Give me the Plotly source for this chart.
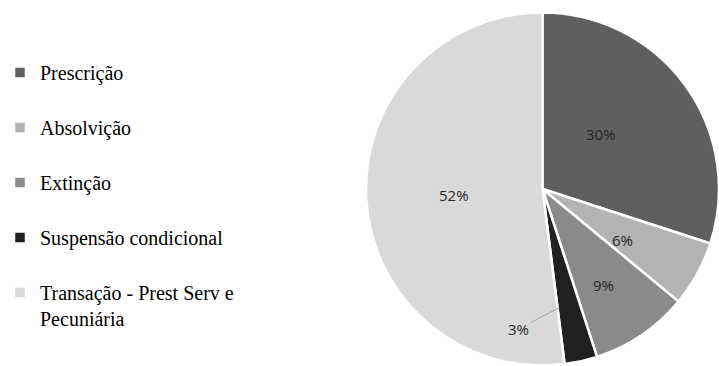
import math
import plotly.graph_objects as go

categories = ["Prescrição", "Absolvição", "Extinção", "Suspensão condicional",
              "Transação - Prest Serv e Pecuniária"]
legend_labels = ["Prescrição<br> ", "Absolvição<br> ", "Extinção<br> ",
                 "Suspensão condicional<br> ", "Transação - Prest Serv e<br>Pecuniária"]
values = [30, 6, 9, 3, 52]
colors = ["#5f5f5f", "#b3b3b3", "#8a8a8a", "#202020", "#d9d9d9"]

W, H = 719, 366
# pie geometry in pixels
R = 176.5
CX, CY = 542.5, 189.0  # CY measured from top
# radial placement of each percentage label (fraction of radius); None = leader line
label_r = [0.53, 0.6, 0.74, None, 0.5]
label_font = dict(family="Open Sans, sans-serif", size=15, color="#262626")

fig = go.Figure()
fig.add_trace(go.Pie(
    labels=legend_labels,
    values=values,
    sort=False,
    direction="clockwise",
    rotation=0,
    marker=dict(colors=colors, line=dict(color="#ffffff", width=2.5)),
    textinfo="none",
    domain=dict(x=[max(0, (CX - R) / W), min(1, (CX + R) / W)],
                y=[max(0, (H - (CY + R)) / H), min(1, (H - (CY - R)) / H)]),
    hoverinfo="label+percent",
))

total = sum(values)
cum = 0
for i, v in enumerate(values):
    start = cum / total
    cum += v
    end = cum / total
    pct = f"{v / total:.0%}"
    if label_r[i] is not None:
        ang = 2 * math.pi * (start + end) / 2
        rr = label_r[i] * R
        px = CX + rr * math.sin(ang)
        py = CY - rr * math.cos(ang)
        fig.add_annotation(x=px / W, y=(H - py) / H, xref="paper", yref="paper",
                           text=pct, showarrow=False, font=label_font)
    else:
        ang = 2 * math.pi * end - 0.01
        rr = 0.68 * R
        px = CX + rr * math.sin(ang)
        py = CY - rr * math.cos(ang)
        fig.add_annotation(
            x=px / W, y=(H - py) / H, xref="paper", yref="paper",
            text=pct, showarrow=True, arrowhead=0, arrowwidth=1,
            arrowcolor="#a6a6a6", ax=-40, ay=21, standoff=0, font=label_font,
        )

fig.update_layout(
    width=W, height=H,
    margin=dict(l=0, r=0, t=0, b=0),
    paper_bgcolor="#ffffff",
    plot_bgcolor="#ffffff",
    showlegend=True,
    legend=dict(
        x=0, xanchor="left",
        y=1 - 53 / H, yanchor="top",
        valign="top",
        font=dict(family="Liberation Serif, Times New Roman, serif", size=20, color="#000000"),
        bgcolor="rgba(0,0,0,0)",
        traceorder="normal",
    ),
)

fig.write_html("out.html")
